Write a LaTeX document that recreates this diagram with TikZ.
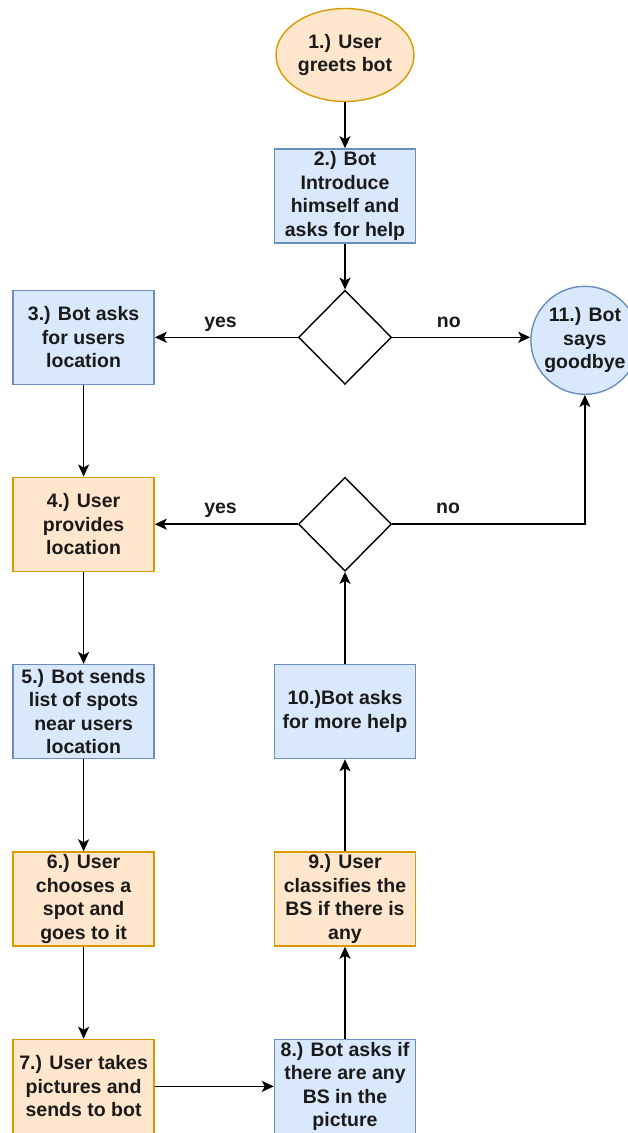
\documentclass[tikz,border=0pt]{standalone}
\usepackage{fontspec}
\setmainfont{Liberation Sans}
\usetikzlibrary{positioning, shapes.geometric, arrows.meta}
\definecolor{userfill}{HTML}{FFE6CC}
\definecolor{userline}{HTML}{D79B00}
\definecolor{botfill}{HTML}{DAE8FC}
\definecolor{botline}{HTML}{6C8EBF}
\definecolor{ink}{HTML}{1A1A1A}

\begin{document}
\begin{tikzpicture}[x=1pt, y=1pt,
	every node/.style={font=\bfseries\fontsize{19.5}{23.5}\selectfont, text=ink, align=center},
	box/.style={rectangle, draw, line width=1.4pt, minimum width=141pt, minimum height=94pt, inner sep=0pt},
	userbox/.style={box, draw=userline, fill=userfill},
	botbox/.style={box, draw=botline, fill=botfill},
	choice/.style={diamond, draw=black, line width=1.4pt, fill=white, minimum width=93pt, minimum height=94pt, inner sep=0pt},
	flow/.style={-{Stealth[length=12pt, width=11pt, inset=3pt]}, line width=1.6pt, black},
	lbl/.style={above=5.5pt, inner sep=0pt, text height=10pt, text depth=4pt}]
	\path[use as bounding box] (0,0) rectangle (628,-1133);

	\node[ellipse, draw=userline, fill=userfill, line width=1.4pt, minimum width=138pt, minimum height=93pt, inner sep=0pt] (greet) at (345,-55) {1.) User\\greets bot};
	\node[botbox, below=46pt of greet] (intro) {2.) Bot\\Introduce\\himself and\\asks for help};
	\node[choice, below=46pt of intro] (help) {};
	\node[botbox, left=143pt of help] (askloc) {3.) Bot asks\\for users\\location};
	\node[circle, draw=botline, fill=botfill, line width=1.4pt, minimum size=108pt, inner sep=0pt, right=138pt of help, yshift=-3pt] (bye) {11.) Bot\\says\\goodbye};
	\node[userbox, below=91.5pt of askloc] (giveloc) {4.) User\\provides\\location};
	\node[choice] (more) at (help |- giveloc) {};
	\node[botbox, below=92pt of giveloc] (spots) {5.) Bot sends\\list of spots\\near users\\location};
	\node[userbox, below=92pt of spots] (choose) {6.) User\\chooses a\\spot and\\goes to it};
	\node[userbox, below=92pt of choose] (pics) {7.) User takes\\pictures and\\sends to bot};
	\node[botbox] (askbs) at (help |- pics) {8.) Bot asks if\\there are any\\BS in the\\picture};
	\node[userbox] (classify) at (help |- choose) {9.) User\\classifies the\\BS if there is\\any};
	\node[botbox] (morehelp) at (help |- spots) {10.)Bot asks\\for more help};

	\draw[flow] (greet) -- (intro);
	\draw[flow] (intro) -- (help);
	\draw[flow] (help) -- node[lbl, pos=0.54] {yes} (askloc);
	\draw[flow] (help) -- node[lbl, pos=0.41] {no} (help -| bye.west);
	\draw[flow] (askloc) -- (giveloc);
	\draw[flow] (more) -- node[lbl, pos=0.54] {yes} (giveloc);
	\draw[flow] (more) -| node[lbl, pos=0.145] {no} (bye);
	\draw[flow] (giveloc) -- (spots);
	\draw[flow] (spots) -- (choose);
	\draw[flow] (choose) -- (pics);
	\draw[flow] (pics) -- (askbs);
	\draw[flow] (askbs) -- (classify);
	\draw[flow] (classify) -- (morehelp);
	\draw[flow] (morehelp) -- (more);
\end{tikzpicture}
\end{document}
